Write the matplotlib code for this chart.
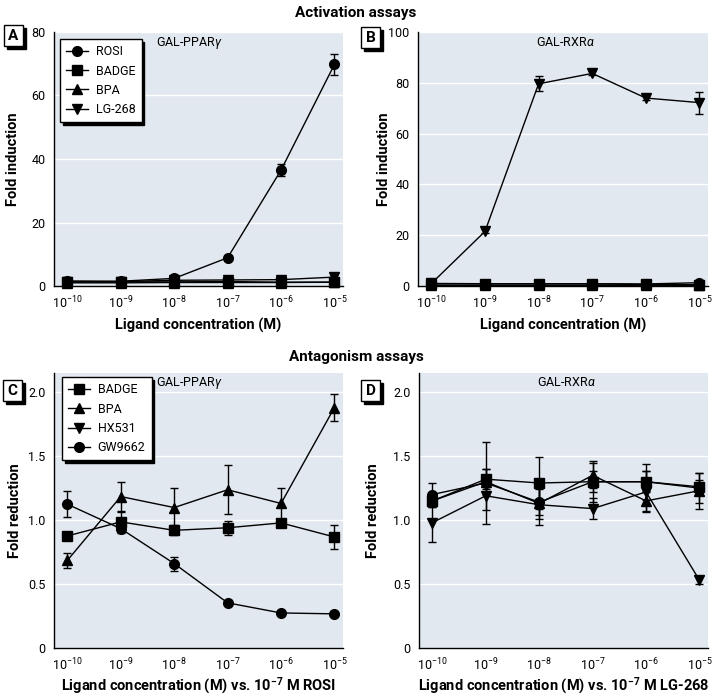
import numpy as np
import matplotlib
matplotlib.use('Agg')
import matplotlib.pyplot as plt
from matplotlib.lines import Line2D
from matplotlib.patches import Rectangle

plt.rcParams['font.family'] = ['Roboto', 'DejaVu Sans']
plt.rcParams['mathtext.fontset'] = 'custom'
plt.rcParams['mathtext.rm'] = 'Roboto'
plt.rcParams['mathtext.it'] = 'Roboto:italic'
plt.rcParams['mathtext.bf'] = 'Roboto:bold'

W, H = 712, 696
bg = '#e1e8ef'

conc = [1e-10, 1e-9, 1e-8, 1e-7, 1e-6, 1e-5]

# activation assays, GAL-PPARg
a_rosi = [1.6, 1.5, 2.4, 8.9, 36.5, 69.8]
a_rosi_err = [0.3, 0.3, 0.4, 0.6, 1.8, 3.4]
a_badge = [1.3, 1.3, 1.3, 1.4, 1.2, 1.2]
a_badge_err = [0.3, 0.3, 0.3, 0.3, 0.3, 0.3]
a_bpa = [1.0, 1.0, 1.1, 1.1, 1.1, 1.2]
a_bpa_err = [0.2, 0.2, 0.2, 0.2, 0.2, 0.2]
a_lg = [1.3, 1.4, 1.8, 1.9, 2.0, 2.8]
a_lg_err = [0.3, 0.3, 0.3, 0.3, 0.5, 0.8]

# activation assays, GAL-RXRa
b_rosi = [1.0, 0.9, 0.9, 0.9, 0.8, 1.3]
b_rosi_err = [0.2, 0.2, 0.2, 0.2, 0.2, 0.3]
b_badge = [0.8, 0.8, 0.8, 0.8, 0.6, 0.5]
b_badge_err = [0.2, 0.2, 0.2, 0.2, 0.2, 0.2]
b_bpa = [0.5, 0.5, 0.5, 0.5, 0.5, 0.5]
b_bpa_err = [0.1, 0.1, 0.1, 0.1, 0.1, 0.1]
b_lg = [1.0, 21.5, 79.6, 83.7, 74.0, 72.2]
b_lg_err = [0.3, 0.8, 2.9, 0.8, 0.8, 4.3]

# antagonism assays, GAL-PPARg (vs 1e-7 M ROSI)
c_badge = [0.876, 0.986, 0.92, 0.94, 0.978, 0.868]
c_badge_err = [0.03, 0.08, 0.04, 0.055, 0.03, 0.095]
c_bpa = [0.685, 1.184, 1.098, 1.237, 1.13, 1.88]
c_bpa_err = [0.06, 0.11, 0.15, 0.19, 0.12, 0.105]
c_gw = [1.124, 0.933, 0.66, 0.353, 0.274, 0.267]
c_gw_err = [0.1, 0.03, 0.055, 0.02, 0.015, 0.015]

# antagonism assays, GAL-RXRa (vs 1e-7 M LG-268)
d_badge = [1.15, 1.32, 1.29, 1.30, 1.30, 1.26]
d_badge_err = [0.05, 0.08, 0.2, 0.08, 0.08, 0.05]
d_bpa = [1.15, 1.30, 1.13, 1.35, 1.15, 1.23]
d_bpa_err = [0.05, 0.1, 0.12, 0.1, 0.08, 0.14]
d_hx = [0.98, 1.19, 1.12, 1.09, 1.22, 0.53]
d_hx_err = [0.15, 0.11, 0.16, 0.08, 0.16, 0.03]
d_gw = [1.20, 1.29, 1.14, 1.30, 1.30, 1.25]
d_gw_err = [0.09, 0.32, 0.1, 0.16, 0.14, 0.12]

markers = {'ROSI': 'o', 'BADGE': 's', 'BPA': '^', 'LG-268': 'v',
           'HX531': 'v', 'GW9662': 'o'}


def px_axes(l, t, r, b):
    return fig.add_axes([l / W, 1 - b / H, (r - l) / W, (b - t) / H])


def series(ax, y, err, name, ms=7):
    ax.errorbar(conc, y, yerr=err, color='black', lw=1, marker=markers[name],
                ms=ms, mfc='black', mec='black', capsize=3, elinewidth=1,
                capthick=1, clip_on=False, zorder=3)


def style(ax, ymax, yticks, ylabels, title, tx, ty, xlabel, ylabel, ylx, xly):
    ax.set_facecolor(bg)
    ax.set_xscale('log')
    ax.set_xlim(10 ** -10.25, 10 ** -4.84)
    ax.set_ylim(0, ymax)
    ax.set_xticks(conc)
    ax.minorticks_off()
    ax.set_yticks(yticks)
    ax.set_yticklabels(ylabels)
    ax.tick_params(length=0, labelsize=9, pad=6)
    ax.grid(axis='y', color='white', lw=1)
    ax.set_axisbelow(True)
    for s in ['top', 'right']:
        ax.spines[s].set_visible(False)
    for s in ['left', 'bottom']:
        ax.spines[s].set_linewidth(1)
    ax.text(tx, ty, title, transform=ax.transAxes, ha='center',
            va='center', fontsize=9)
    ax.set_xlabel(xlabel, fontsize=10.5, fontweight='bold')
    ax.xaxis.set_label_coords(0.5, xly)
    ax.xaxis.label.set_va('center')
    ax.set_ylabel(ylabel, fontsize=10.5, fontweight='bold')
    ax.yaxis.set_label_coords(ylx, 0.5)
    ax.yaxis.label.set_va('center')


def add_legend(ax, names, anchor):
    hs = [Line2D([], [], color='black', lw=1, marker=markers[n], ms=7)
          for n in names]
    ax.legend(hs, names, loc='upper left', bbox_to_anchor=anchor,
              frameon=True, fancybox=False, numpoints=1, edgecolor='black',
              framealpha=1, fontsize=9, handlelength=1.7,
              labelspacing=0.5, borderpad=0.5, handletextpad=0.65,
              borderaxespad=0, shadow={'color': 'black', 'alpha': 1})


def panel_label(l, t, s, w=19, h=21):
    # offset black shadow, then white box with the letter
    fig.patches.append(Rectangle(((l + 3) / W, 1 - (t + h + 3) / H), w / W, h / H,
                                 transform=fig.transFigure, fc='black',
                                 ec='black', lw=1))
    fig.patches.append(Rectangle((l / W, 1 - (t + h) / H), w / W, h / H,
                                 transform=fig.transFigure, fc='white',
                                 ec='black', lw=1))
    fig.text((l + w / 2) / W, 1 - (t + h / 2) / H, s, fontsize=11,
             fontweight='bold', ha='center', va='center')


fig = plt.figure(figsize=(W / 100, H / 100), dpi=100)

fig.text(356 / W, 1 - 13 / H, 'Activation assays', ha='center', va='center',
         fontsize=11, fontweight='bold')
fig.text(356 / W, 1 - 357 / H, 'Antagonism assays', ha='center', va='center',
         fontsize=11, fontweight='bold')

# A
axA = px_axes(54, 32, 343, 286)
series(axA, a_bpa, a_bpa_err, 'BPA')
series(axA, a_badge, a_badge_err, 'BADGE')
series(axA, a_lg, a_lg_err, 'LG-268')
series(axA, a_rosi, a_rosi_err, 'ROSI')
style(axA, 80, [0, 20, 40, 60, 80], ['0', '20', '40', '60', '80'],
      r'GAL-PPAR$\gamma$', 0.47, 0.957, 'Ligand concentration (M)',
      'Fold induction', -0.142, -0.154)
add_legend(axA, ['ROSI', 'BADGE', 'BPA', 'LG-268'], (0.021, 0.972))

# B
axB = px_axes(418, 32, 708, 286)
series(axB, b_bpa, b_bpa_err, 'BPA')
series(axB, b_rosi, b_rosi_err, 'ROSI')
series(axB, b_lg, b_lg_err, 'LG-268')
series(axB, b_badge, b_badge_err, 'BADGE')
style(axB, 100, [0, 20, 40, 60, 80, 100], ['0', '20', '40', '60', '80', '100'],
      r'GAL-RXR$\alpha$', 0.507, 0.957, 'Ligand concentration (M)',
      'Fold induction', -0.118, -0.154)

# C
axC = px_axes(54, 373, 343, 648)
series(axC, c_gw, c_gw_err, 'GW9662')
series(axC, c_badge, c_badge_err, 'BADGE')
series(axC, c_bpa, c_bpa_err, 'BPA')
style(axC, 2.15, [0, 0.5, 1.0, 1.5, 2.0], ['0', '0.5', '1.0', '1.5', '2.0'],
      r'GAL-PPAR$\gamma$', 0.47, 0.964,
      r'Ligand concentration (M) vs. 10$^{\mathbf{-7}}$ M ROSI',
      'Fold reduction', -0.135, -0.138)
add_legend(axC, ['BADGE', 'BPA', 'HX531', 'GW9662'], (0.028, 0.985))

# D
axD = px_axes(419, 373, 708, 648)
series(axD, d_gw, d_gw_err, 'GW9662')
series(axD, d_bpa, d_bpa_err, 'BPA')
series(axD, d_hx, d_hx_err, 'HX531')
series(axD, d_badge, d_badge_err, 'BADGE')
style(axD, 2.15, [0, 0.5, 1.0, 1.5, 2.0], ['0', '0.5', '1.0', '1.5', '2.0'],
      r'GAL-RXR$\alpha$', 0.51, 0.964,
      r'Ligand concentration (M) vs. 10$^{\mathbf{-7}}$ M LG-268',
      'Fold reduction', -0.159, -0.138)

panel_label(4, 25, 'A')
panel_label(361, 27, 'B')
panel_label(3, 380, 'C')
panel_label(361, 380, 'D')

fig.savefig('out.png', dpi=100)
